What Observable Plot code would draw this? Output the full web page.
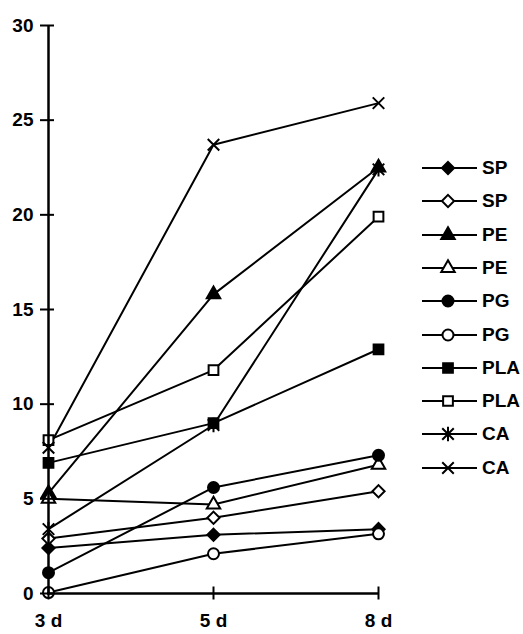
<!DOCTYPE html>
<html><head><meta charset="utf-8">
<script src="https://cdn.jsdelivr.net/npm/d3@7"></script>
<script src="https://cdn.jsdelivr.net/npm/@observablehq/plot@0.6"></script>
<style>
body{margin:0;background:#fff;}
#wrap{position:relative;width:523px;height:634px;font-family:"Liberation Sans",Arial,sans-serif;}
#wrap svg text{font-size:19px !important;font-weight:bold !important;font-family:"Liberation Sans",Arial,sans-serif !important;}
#legend{position:absolute;left:422px;top:0;}
.row{position:absolute;left:0;display:flex;align-items:center;height:20px;font-weight:bold;font-size:19px;color:#000;white-space:nowrap;}
.row svg{margin-right:5px;}
</style></head><body><div id="wrap"></div>
<script>
// categories
const days = ["3 d", "5 d", "8 d"];
const seriesNames = ["SP", "SP", "PE", "PE", "PG", "PG", "PLA", "PLA", "CA", "CA"];
// series values
const spFilled  = [2.4, 3.1, 3.4];
const spOpen    = [2.9, 4.0, 5.4];
const peFilled  = [5.3, 15.8, 22.5];
const peOpen    = [5.0, 4.7, 6.8];
const pgFilled  = [1.1, 5.6, 7.3];
const pgOpen    = [0.05, 2.1, 3.15];
const plaFilled = [6.9, 9.0, 12.9];
const plaOpen   = [8.1, 11.8, 19.9];
const caStar    = [3.4, 8.9, 22.4];
const caCross   = [7.7, 23.7, 25.9];
// tick labels
const yTicks = [0, 5, 10, 15, 20, 25, 30];

const asterisk = {
  draw(ctx, size) {
    const r = Math.sqrt(size) * 0.5;
    ctx.moveTo(-r, -r); ctx.lineTo(r, r);
    ctx.moveTo(-r, r); ctx.lineTo(r, -r);
    ctx.moveTo(0, -r * 1.25); ctx.lineTo(0, r * 1.25);
  }
};
const timesSym = {
  draw(ctx, size) {
    const r = Math.sqrt(size) * 0.5;
    ctx.moveTo(-r, -r); ctx.lineTo(r, r);
    ctx.moveTo(-r, r); ctx.lineTo(r, -r);
  }
};

const seriesValues = [spFilled, spOpen, peFilled, peOpen, pgFilled, pgOpen, plaFilled, plaOpen, caStar, caCross];
const symbols = [d3.symbolDiamond2, d3.symbolDiamond2, d3.symbolTriangle, d3.symbolTriangle, d3.symbolCircle, d3.symbolCircle, d3.symbolSquare, d3.symbolSquare, asterisk, timesSym];
const fills = ["black", "white", "black", "white", "black", "white", "black", "white", "none", "none"];
const radii = [5.5, 5.5, 5, 5, 5.5, 5.5, 5.5, 5.5, 6.5, 6.5];

const series = seriesValues.map((vals, i) => ({
  id: i, name: seriesNames[i], symbol: symbols[i], fill: fills[i], r: radii[i],
  rows: vals.map((v, j) => ({day: days[j], value: v, id: i}))
}));
const allRows = series.flatMap(s => s.rows);

const font = {fontSize: 19, fontWeight: "bold", fontFamily: "Liberation Sans, Arial, sans-serif"};

const chart = Plot.plot({
  width: 523, height: 634,
  marginLeft: 47, marginRight: 145, marginTop: 25, marginBottom: 41,
  style: {fontFamily: "Liberation Sans, Arial, sans-serif", fontSize: "19px", fontWeight: "bold", background: "white", color: "black"},
  x: {type: "point", domain: days, padding: 0, axis: null, label: null},
  y: {domain: [0, 30], axis: null, label: null},
  marks: [
    Plot.line(allRows, {x: "day", y: "value", z: "id", stroke: "black", strokeWidth: 2}),
    ...series.map(s => Plot.dot(s.rows, {x: "day", y: "value", symbol: s.symbol, fill: s.fill, stroke: "black", strokeWidth: 2, r: s.r})),
    Plot.ruleX([days[0]], {stroke: "black", strokeWidth: 2.5}),
    Plot.ruleY([0], {stroke: "black", strokeWidth: 2.5}),
    Plot.axisY(yTicks, {tickSize: 14, dx: 7, tickPadding: 7, strokeWidth: 2, label: null, ...font}),
    Plot.axisX(days, {tickSize: 13, dy: -6.5, tickPadding: 13, strokeWidth: 2, label: null, ...font})
  ]
});

const wrap = document.getElementById("wrap");
wrap.appendChild(chart);

const legend = document.createElement("div");
legend.id = "legend";
wrap.appendChild(legend);
series.forEach((s, i) => {
  const row = document.createElement("div");
  row.className = "row";
  row.style.top = (168 + 33.3 * i - 10) + "px";
  const svg = d3.create("svg").attr("width", 55).attr("height", 20);
  svg.append("line").attr("x1", 0).attr("x2", 55).attr("y1", 10).attr("y2", 10).attr("stroke", "black").attr("stroke-width", 2);
  svg.append("path").attr("transform", "translate(26,10)")
    .attr("d", d3.symbol(s.symbol, Math.PI * s.r * s.r)())
    .attr("fill", s.fill).attr("stroke", "black").attr("stroke-width", 2);
  row.appendChild(svg.node());
  const t = document.createElement("span");
  t.textContent = s.name;
  row.appendChild(t);
  legend.appendChild(row);
});
</script></body></html>
